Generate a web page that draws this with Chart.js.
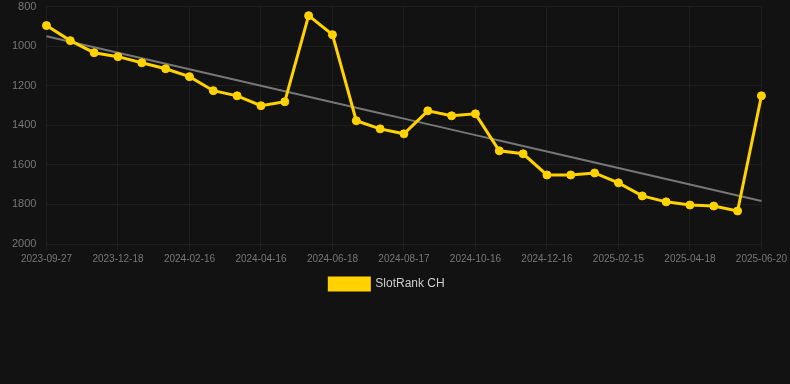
<!DOCTYPE html>
<html>
<head>
<meta charset="utf-8">
<script src="https://cdn.jsdelivr.net/npm/chart.js@4"></script>
<style>
  html, body { margin: 0; padding: 0; background: #121212; }
  #wrap { width: 790px; height: 300px; position: relative; }
</style>
</head>
<body>
<div id="wrap"><canvas id="chart"></canvas></div>
<script>
// Dates for every point (only every third one is labelled on the axis)
const dates = [
    '2023-09-27', '2023-10-25', '2023-11-22', '2023-12-18', '2024-01-05', '2024-01-27',
    '2024-02-16', '2024-03-06', '2024-03-26', '2024-04-16', '2024-05-07', '2024-05-28',
    '2024-06-18', '2024-07-08', '2024-07-28', '2024-08-17', '2024-09-06', '2024-09-26',
    '2024-10-16', '2024-11-05', '2024-11-25', '2024-12-16', '2025-01-05', '2025-01-25',
    '2025-02-15', '2025-03-07', '2025-03-28', '2025-04-18', '2025-05-09', '2025-05-30',
    '2025-06-20'
];
const ranks = [
    896, 972, 1033, 1053, 1084, 1114, 1154, 1225, 1251, 1301, 1281, 846,
    942, 1377, 1418, 1443, 1327, 1352, 1342, 1529, 1544, 1651, 1651, 1641,
    1691, 1757, 1787, 1803, 1808, 1833, 1251
];
const yTicks = [800, 1000, 1200, 1400, 1600, 1800, 2000];
const seriesName = 'SlotRank CH';

// Least squares trend over the series
function trendLine(values) {
    const n = values.length;
    let sx = 0, sy = 0, sxy = 0, sxx = 0;
    values.forEach((v, i) => { sx += i; sy += v; sxy += i * v; sxx += i * i; });
    const slope = (n * sxy - sx * sy) / (n * sxx - sx * sx);
    const icpt = (sy - slope * sx) / n;
    return values.map((v, i) => icpt + slope * i);
}

const gridColor = 'rgba(255,255,255,0.05)';
const fontFamily = 'Liberation Sans, Arial, sans-serif';

new Chart(document.getElementById('chart').getContext('2d'), {
    type: 'line',
    data: {
        labels: dates,
        datasets: [{
            label: seriesName,
            data: ranks,
            borderColor: '#ffd200',
            backgroundColor: '#ffd200',
            borderWidth: 3,
            pointRadius: 4,
            pointBorderWidth: 1,
            pointHoverRadius: 4,
            tension: 0
        }, {
            label: 'trend',
            data: trendLine(ranks),
            borderColor: 'rgba(130,130,130,0.9)',
            borderWidth: 2,
            pointRadius: 0,
            fill: false
        }]
    },
    options: {
        responsive: true,
        maintainAspectRatio: false,
        animation: false,
        layout: { padding: { left: 12, right: 28, top: 0 } },
        scales: {
            x: {
                grid: {
                    color: ctx => ctx.index % 3 === 0 ? gridColor : 'transparent',
                    tickLength: 6
                },
                border: { display: false },
                ticks: {
                    autoSkip: false,
                    maxRotation: 0,
                    color: '#777',
                    font: { size: 10, family: fontFamily },
                    callback: function(v, i) { return i % 3 === 0 ? dates[i] : ''; }
                }
            },
            y: {
                reverse: true,
                min: yTicks[0],
                max: yTicks[yTicks.length - 1],
                afterBuildTicks: axis => { axis.ticks = yTicks.map(v => ({ value: v })); },
                grid: { color: gridColor, tickColor: 'transparent', tickLength: 10 },
                border: { display: false },
                ticks: {
                    padding: 0,
                    color: '#777',
                    font: { size: 11, family: fontFamily },
                    callback: v => String(v)
                }
            }
        },
        plugins: {
            legend: {
                position: 'bottom',
                labels: {
                    filter: item => item.text === seriesName,
                    boxWidth: 40,
                    boxHeight: 12,
                    color: '#ccc',
                    font: { size: 12, family: fontFamily }
                }
            },
            tooltip: { enabled: false }
        }
    }
});
</script>
</body>
</html>
